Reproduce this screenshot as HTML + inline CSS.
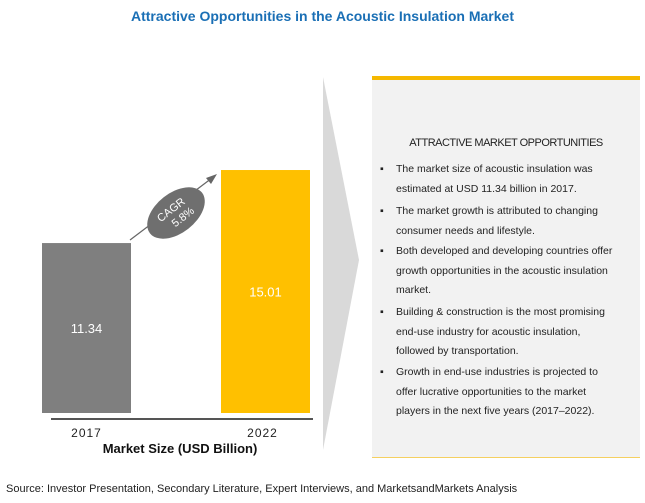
<!DOCTYPE html>
<html><head><meta charset="utf-8"><style>
body{margin:0;width:645px;height:503px;background:#fff;font-family:"Liberation Sans",sans-serif;position:relative;overflow:hidden}
.t{position:absolute}
#panel{position:absolute;left:372px;top:76px;width:268px;height:382px;background:#f2f2f2;border-top:4px solid #f5b800;border-bottom:1px solid #f5d060;box-sizing:border-box}
.b{position:absolute;left:8px;font-size:10.5px;color:#222;line-height:19.5px;width:260px;white-space:nowrap}
.b span{position:absolute;left:0;top:0}
.b div{margin-left:16px}
</style></head><body>
<div class="t" style="left:0;width:645px;top:8px;text-align:center;color:#1a6fb5;font-weight:bold;font-size:14px">Attractive Opportunities in the Acoustic Insulation Market</div>
<svg id="chart" width="645" height="503" style="position:absolute;left:0;top:0">
<polygon points="323,77 359,260 323,450" fill="#d9d9d9"/>
</svg>
<div id="panel">
<div class="t" style="left:0;width:268px;top:57px;text-align:center;font-size:11px;color:#222;letter-spacing:-0.5px">ATTRACTIVE MARKET OPPORTUNITIES</div>
<div class="b" style="top:80px"><span>▪</span><div>The market size of acoustic insulation was<br>estimated at USD 11.34 billion in 2017.</div></div>
<div class="b" style="top:122px"><span>▪</span><div>The market growth is attributed to changing<br>consumer needs and lifestyle.</div></div>
<div class="b" style="top:162px"><span>▪</span><div>Both developed and developing countries offer<br>growth opportunities in the acoustic insulation<br>market.</div></div>
<div class="b" style="top:223px"><span>▪</span><div>Building &amp; construction is the most promising<br>end-use industry for acoustic insulation,<br>followed by transportation.</div></div>
<div class="b" style="top:283px"><span>▪</span><div>Growth in end-use industries is projected to<br>offer lucrative opportunities to the market<br>players in the next five years (2017–2022).</div></div>
</div>
<div class="t" style="left:6px;top:483px;font-size:11px;color:#222">Source: Investor Presentation, Secondary Literature, Expert Interviews, and MarketsandMarkets Analysis</div>
<script>
const categories=["2017","2022"];
const values=[11.34,15.01];
const labels=["11.34","15.01"];
const colors=["#7f7f7f","#ffc000"];
const svg=document.getElementById('chart');
const NS="http://www.w3.org/2000/svg";
const base=413,vmin=2.8,ppu=19.9;
const y=v=>base-(v-vmin)*ppu;
const xs=[42,221],bw=89;
function mk(t,a){const e=document.createElementNS(NS,t);for(const k in a)e.setAttribute(k,a[k]);svg.appendChild(e);return e;}
categories.forEach((c,i)=>{
 const r=mk('rect',{x:xs[i],y:y(values[i]),width:bw,height:base-y(values[i]),fill:colors[i]});
 
 
 const tv=mk('text',{x:xs[i]+bw/2,y:(y(values[i])+base)/2+5,'text-anchor':'middle',fill:'#fff','font-size':13,'font-family':'Liberation Sans'});
 tv.textContent=labels[i];
 
 
 const tx=mk('text',{x:xs[i]+bw/2-(i?3:0),y:437,'text-anchor':'middle',fill:'#222','font-size':12,'font-family':'Liberation Sans','letter-spacing':1});
 tx.textContent=c;
 
 
});
const ax=mk('line',{x1:51,y1:419,x2:313,y2:419,stroke:'#555','stroke-width':2});


const xt=mk('text',{x:180,y:453,'text-anchor':'middle',fill:'#111','font-size':13,'font-weight':'bold','font-family':'Liberation Sans'});
xt.textContent='Market Size (USD Billion)';


const ar=mk('line',{x1:130,y1:240,x2:212,y2:178,stroke:'#666','stroke-width':1.2});


const ah=mk('polygon',{points:'217,174 206,178 211,184',fill:'#666'});


const g=mk('g',{transform:'translate(176,213) rotate(-38)'});


const el=document.createElementNS(NS,'ellipse');el.setAttribute('rx',33);el.setAttribute('ry',20);el.setAttribute('fill','#6f6f6f');g.appendChild(el);
['CAGR','5.8%'].forEach((s,i)=>{const t=document.createElementNS(NS,'text');t.setAttribute('x',i?3:-2);t.setAttribute('y',i?11:-2);t.setAttribute('text-anchor','middle');t.setAttribute('fill','#fff');t.setAttribute('font-size',11);t.setAttribute('font-family','Liberation Sans');t.textContent=s;g.appendChild(t);});
</script>
</body></html>
